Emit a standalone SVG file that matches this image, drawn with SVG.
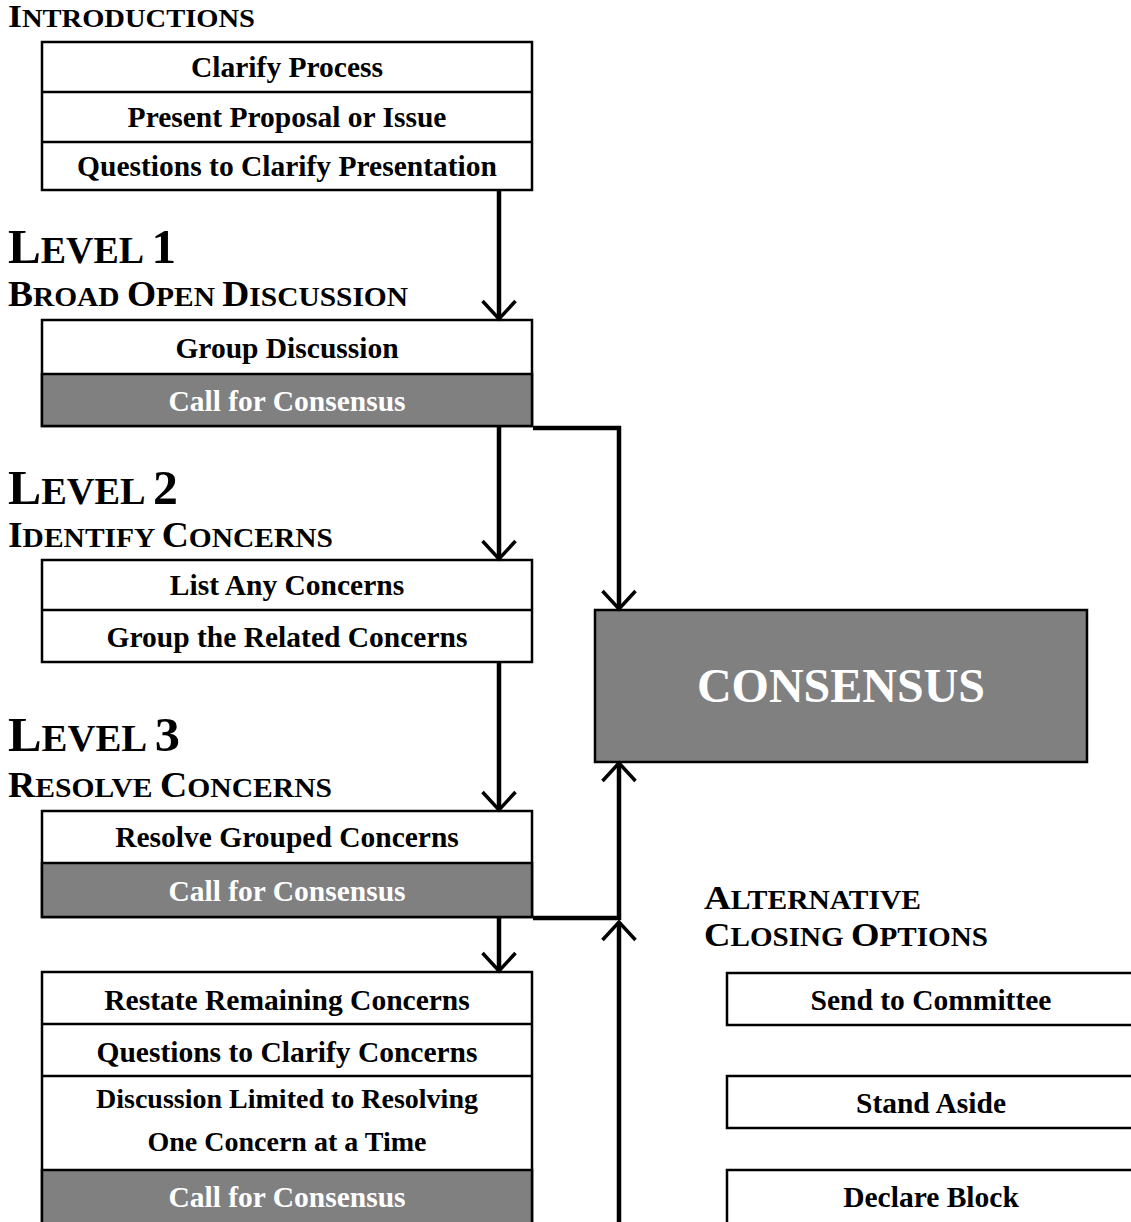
<svg xmlns="http://www.w3.org/2000/svg" width="1131" height="1222" viewBox="0 0 1131 1222">
<style>
  text { font-family: "Liberation Serif", "Times New Roman", serif; font-weight: bold; }
  .t { font-size: 29.5px; text-anchor: middle; fill: #000; }
  .ts { font-size: 28px; text-anchor: middle; fill: #000; }
  .tw { font-size: 29.5px; text-anchor: middle; fill: #fff; }
  .box { fill: #fff; stroke: #000; stroke-width: 2.5; }
  .gray { fill: #808080; stroke: #000; stroke-width: 2.5; }
  .div { stroke: #000; stroke-width: 2.5; }
  .conn { fill: none; stroke: #000; stroke-width: 4.5; }
  .h { fill: #000; }
</style>
<defs>
  <marker id="arr" viewBox="-22 -20 26 40" refX="0" refY="0" markerWidth="26" markerHeight="40" markerUnits="userSpaceOnUse" orient="auto">
    <path d="M-18,-16.5 L0,0 L-18,16.5" fill="none" stroke="#000" stroke-width="3.5"/>
  </marker>
</defs>

<g id="headings">
  <text class="h" x="8" y="27" textLength="247" lengthAdjust="spacingAndGlyphs"><tspan font-size="32">I</tspan><tspan font-size="25.5">NTRODUCTIONS</tspan></text>
  <text class="h" x="8" y="263" textLength="168" lengthAdjust="spacingAndGlyphs"><tspan font-size="48">L</tspan><tspan font-size="37">EVEL </tspan><tspan font-size="48">1</tspan></text>
  <text class="h" x="8" y="306" textLength="400" lengthAdjust="spacingAndGlyphs"><tspan font-size="35">B</tspan><tspan font-size="27.5">ROAD </tspan><tspan font-size="35">O</tspan><tspan font-size="27.5">PEN </tspan><tspan font-size="35">D</tspan><tspan font-size="27.5">ISCUSSION</tspan></text>
  <text class="h" x="8" y="504" textLength="170" lengthAdjust="spacingAndGlyphs"><tspan font-size="48">L</tspan><tspan font-size="37">EVEL </tspan><tspan font-size="48">2</tspan></text>
  <text class="h" x="8" y="547" textLength="325" lengthAdjust="spacingAndGlyphs"><tspan font-size="35">I</tspan><tspan font-size="27.5">DENTIFY </tspan><tspan font-size="35">C</tspan><tspan font-size="27.5">ONCERNS</tspan></text>
  <text class="h" x="8" y="751" textLength="172" lengthAdjust="spacingAndGlyphs"><tspan font-size="48">L</tspan><tspan font-size="37">EVEL </tspan><tspan font-size="48">3</tspan></text>
  <text class="h" x="8" y="797" textLength="324" lengthAdjust="spacingAndGlyphs"><tspan font-size="35">R</tspan><tspan font-size="27.5">ESOLVE </tspan><tspan font-size="35">C</tspan><tspan font-size="27.5">ONCERNS</tspan></text>
  <text class="h" x="704" y="909" textLength="217" lengthAdjust="spacingAndGlyphs"><tspan font-size="34">A</tspan><tspan font-size="27">LTERNATIVE</tspan></text>
  <text class="h" x="704" y="946" textLength="284" lengthAdjust="spacingAndGlyphs"><tspan font-size="34">C</tspan><tspan font-size="27">LOSING </tspan><tspan font-size="34">O</tspan><tspan font-size="27">PTIONS</tspan></text>
</g>

<g id="intro">
  <rect class="box" x="42" y="42" width="490" height="148"/>
  <line class="div" x1="42" y1="92" x2="532" y2="92"/>
  <line class="div" x1="42" y1="142" x2="532" y2="142"/>
  <text class="t" x="287" y="77">Clarify Process</text>
  <text class="t" x="287" y="127">Present Proposal or Issue</text>
  <text class="t" x="287" y="176">Questions to Clarify Presentation</text>
</g>

<g id="level1">
  <rect class="box" x="42" y="320" width="490" height="106"/>
  <rect class="gray" x="42" y="374" width="490" height="52"/>
  <text class="t" x="287" y="358">Group Discussion</text>
  <text class="tw" x="287" y="411">Call for Consensus</text>
</g>

<g id="level2">
  <rect class="box" x="42" y="560" width="490" height="102"/>
  <line class="div" x1="42" y1="610" x2="532" y2="610"/>
  <text class="t" x="287" y="595">List Any Concerns</text>
  <text class="t" x="287" y="647">Group the Related Concerns</text>
</g>

<g id="level3">
  <rect class="box" x="42" y="811" width="490" height="106"/>
  <rect class="gray" x="42" y="863" width="490" height="54"/>
  <text class="t" x="287" y="847">Resolve Grouped Concerns</text>
  <text class="tw" x="287" y="901">Call for Consensus</text>
</g>

<g id="level4">
  <rect class="box" x="42" y="972" width="490" height="262"/>
  <line class="div" x1="42" y1="1024" x2="532" y2="1024"/>
  <line class="div" x1="42" y1="1076" x2="532" y2="1076"/>
  <rect class="gray" x="42" y="1170" width="490" height="64"/>
  <text class="t" x="287" y="1010">Restate Remaining Concerns</text>
  <text class="t" x="287" y="1062">Questions to Clarify Concerns</text>
  <text class="ts" x="287" y="1108">Discussion Limited to Resolving</text>
  <text class="ts" x="287" y="1151">One Concern at a Time</text>
  <text class="tw" x="287" y="1207">Call for Consensus</text>
</g>

<g id="consensus">
  <rect class="gray" x="595" y="610" width="492" height="152"/>
  <text x="841" y="702" font-size="48" fill="#fff" text-anchor="middle">CONSENSUS</text>
</g>

<g id="send-to-committee">
  <rect class="box" x="727" y="973" width="410" height="52"/>
  <text class="t" x="931" y="1010">Send to Committee</text>
</g>
<g id="stand-aside">
  <rect class="box" x="727" y="1076" width="410" height="52"/>
  <text class="t" x="931" y="1113">Stand Aside</text>
</g>
<g id="declare-block">
  <rect class="box" x="727" y="1170" width="410" height="64"/>
  <text class="t" x="931" y="1207">Declare Block</text>
</g>

<g id="connectors">
  <path class="conn" d="M499,191 V319" marker-end="url(#arr)"/>
  <path class="conn" d="M499,427 V559" marker-end="url(#arr)"/>
  <path class="conn" d="M499,663 V810" marker-end="url(#arr)"/>
  <path class="conn" d="M499,918 V971" marker-end="url(#arr)"/>
  <path class="conn" d="M533,428 H619 V609" marker-end="url(#arr)"/>
  <path class="conn" d="M533,918 H619 V763" marker-end="url(#arr)"/>
  <path class="conn" d="M619,1222 V922" marker-end="url(#arr)"/>
</g>
</svg>
